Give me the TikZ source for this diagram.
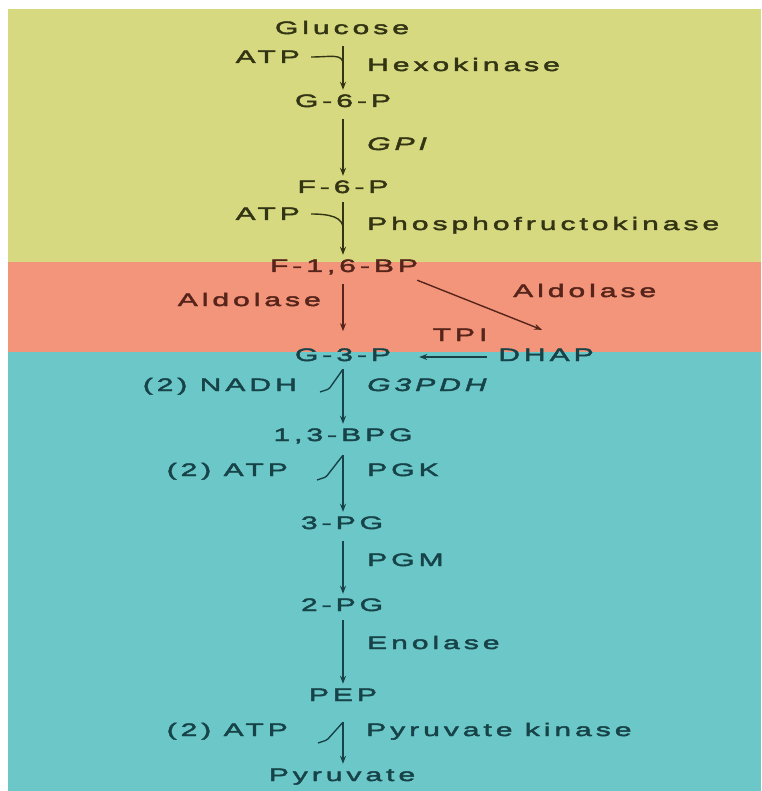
\documentclass[tikz,border=0pt]{standalone}
\usepackage{fontspec}
\setmainfont{Liberation Sans}[FakeStretch=1.67,LetterSpace=22,FakeBold=2.5]
\usetikzlibrary{arrows.meta,calc}
\definecolor{bandYellow}{RGB}{214, 217, 128}
\definecolor{bandSalmon}{RGB}{243, 149, 122}
\definecolor{bandTeal}{RGB}{108, 200, 200}
\definecolor{inkOlive}{RGB}{50, 52, 20}
\definecolor{inkRust}{RGB}{86, 36, 26}
\definecolor{inkTeal}{RGB}{22, 66, 72}
\tikzset{
    metab/.style={font=\fontsize{18pt}{20pt}\selectfont, text height=12pt, text depth=4pt, inner sep=5pt},
    enzlabel/.style={metab, anchor=west, inner sep=0pt},
    cofac/.style={metab, anchor=east, inner sep=0pt},
    rxn/.style={line width=1.4pt, -{Stealth[length=8pt,width=6pt]}, shorten <=3pt},
    hookline/.style={line width=1.4pt, rounded corners=1.5pt}
}

\begin{document}
\begin{tikzpicture}[x=1pt,y=-1pt]
    \useasboundingbox (0,0) rectangle (761,791);
    % colour bands
    \fill[bandYellow] (8,9) rectangle (761,262);
    \fill[bandSalmon] (8,262) rectangle (761,352);
    \fill[bandTeal] (8,352) rectangle (761,791);
    \coordinate (spine) at (343,0);

    % upper part
    \begin{scope}[inkOlive]
        \node[metab] (glc) at (342,30) {Glucose};
        \node[metab] (g6p) at (343,103) {G-6-P};
        \node[metab] (f6p) at (343,189) {F-6-P};
        \node[cofac] (atpA) at (300,59) {ATP};
        \node[cofac] (atpB) at (300,216) {ATP};
        \node[enzlabel] (hk) at (367,67) {Hexokinase};
        \node[enzlabel] (gpi) at (367,146) {\itshape GPI};
        \node[enzlabel] (pfk) at (367,226) {Phosphofructokinase};
        \coordinate (jA) at ($(spine |- glc.south)!0.45!(spine |- g6p.north)$);
        \draw[rxn] (spine |- glc.south) -- (spine |- g6p.north);
        \draw[rxn] (spine |- g6p.south) -- (spine |- f6p.north);
        \draw[hookline] ($(atpA.east)+(11,-2)$) .. controls +(20,0) and +(0,-11) .. (jA);
    \end{scope}

    % cleavage
    \begin{scope}[inkRust]
        \node[metab] (f16bp) at (344,268) {F-1,6-BP};
        \node[cofac] (aldA) at (321,302) {Aldolase};
        \node[enzlabel] (aldB) at (513,293) {Aldolase};
        \node[metab] (tpi) at (460,337) {TPI};
        \coordinate (jB) at ($(spine |- f6p.south)!0.5!(spine |- f16bp.north)$);
        \draw[rxn, inkOlive, shorten <=0pt] (spine |- f6p.south) -- (spine |- f16bp.north);
        \draw[hookline, inkOlive] ($(atpB.east)+(11,-2)$) .. controls +(20,0) and +(0,-11) .. (jB);
        \draw[rxn] (spine |- f16bp.south) -- ($(spine |- f16bp.south)+(0,50)$) coordinate (f16tip);
    \end{scope}

    % lower part
    \begin{scope}[inkTeal]
        \node[metab] (g3p) at (343,357) {G-3-P};
        \node[metab] (dhap) at (546,357) {DHAP};
        \node[metab] (bpg) at (343,437) {1,3-BPG};
        \node[metab] (pg3) at (342,525) {3-PG};
        \node[metab] (pg2) at (342,607) {2-PG};
        \node[metab] (pep) at (343,697) {PEP};
        \node[metab] (pyr) at (342,777) {Pyruvate};
        \node[cofac] (nadh) at (297,387) {(2) NADH};
        \node[cofac] (atpC) at (288,472) {(2) ATP};
        \node[cofac] (atpD) at (288,732) {(2) ATP};
        \node[enzlabel] (gapdh) at (367,387) {\itshape G3PDH};
        \node[enzlabel] (pgk) at (367,472) {PGK};
        \node[enzlabel] (pgm) at (367,562) {PGM};
        \node[enzlabel] (eno) at (367,645) {Enolase};
        \node[enzlabel] (pk) at (366,732) {Pyruvate kinase};
        \coordinate (jC) at ($(spine |- g3p.south)+(0,-1)$);
        \coordinate (jD) at ($(spine |- bpg.south)+(0,5)$);
        \coordinate (jE) at ($(spine |- pep.south)+(0,12)$);
        \draw[rxn, shorten <=0pt] (jC) -- (spine |- bpg.north);
        \draw[rxn, shorten <=0pt] (jD) -- (spine |- pg3.north);
        \draw[rxn, shorten <=3pt] (spine |- pg3.south) -- (spine |- pg2.north);
        \draw[rxn, shorten <=0pt] (spine |- pg2.south) -- (spine |- pep.north);
        \draw[rxn, shorten <=0pt] (jE) -- (spine |- pyr.north);
        \draw[hookline] ($(nadh.east)+(23,5)$) -- ++(9,-3) -- (jC);
        \draw[hookline] ($(atpC.east)+(29,8)$) -- ++(9,-3) -- (jD);
        \draw[hookline] ($(atpD.east)+(30,11)$) -- ++(9,-3) -- (jE);
        \draw[rxn, shorten <=6pt, shorten >=23pt] (dhap.west) -- (g3p.east);
    \end{scope}
    \draw[rxn, inkRust, shorten <=0pt] ($(f16bp.south east)+(-6,-1)$) -- ($(dhap.north)+(-4,-14)$);
\end{tikzpicture}
\end{document}
